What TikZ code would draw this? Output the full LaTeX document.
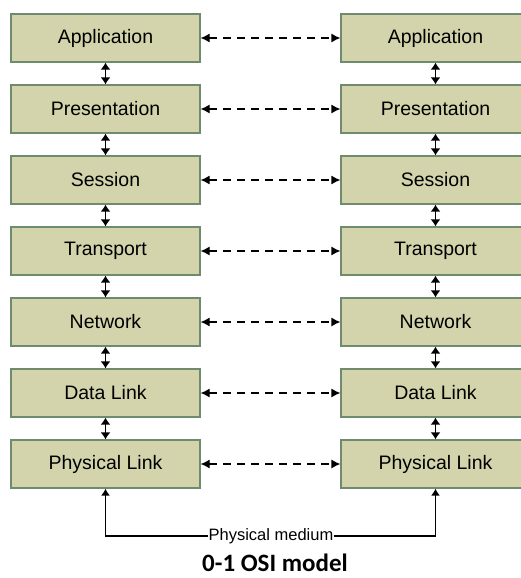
\documentclass[tikz,border=0pt]{standalone}
\usepackage{fontspec}
\setmainfont{Liberation Sans}
\newfontfamily\capfont{Carlito}
\usetikzlibrary{arrows.meta}
\definecolor{boxfill}{HTML}{D3D4AB}
\definecolor{boxline}{HTML}{6E8B6E}
\tikzset{
  layer/.style={draw=boxline, line width=1.2pt, fill=boxfill, minimum width=189pt, minimum height=48pt, inner sep=0pt, font=\fontsize{19.5}{22}\selectfont},
  vlink/.style={line width=1.5pt, {Latex[length=7pt,width=10pt]}-{Latex[length=7pt,width=10pt]}},
  hlink/.style={line width=1.2pt, dash pattern=on 8pt off 6pt, {Latex[length=9pt,width=9pt]}-{Latex[length=9pt,width=9pt]}},
  medium/.style={line width=1.5pt, -{Latex[length=7pt,width=9pt]}}
}
\begin{document}
\begin{tikzpicture}[x=1pt,y=-1pt]
\useasboundingbox (0,0) rectangle (520,578);
\foreach \i/\t in {1/Application,2/Presentation,3/Session,4/Transport,5/Network,6/Data Link,7/Physical Link}{
  \node[layer] (L\i) at (105.5,{38+71*(\i-1)}) {\t};
  \node[layer] (R\i) at (435.5,{38+71*(\i-1)}) {\t};
  \draw[hlink] (L\i.east) -- (R\i.west);
}
\foreach \i [evaluate=\i as \j using int(\i+1)] in {1,...,6}{
  \draw[vlink] (L\i.south) -- (L\j.north);
  \draw[vlink] (R\i.south) -- (R\j.north);
}
\node[inner sep=0pt, font=\fontsize{16.5}{19}\selectfont] (pm) at (271,536) {Physical medium};
\draw[medium] (pm.west) -| (L7.south);
\draw[medium] (pm.east) -| (R7.south);
\node[anchor=base, inner sep=0pt, font=\capfont\bfseries\fontsize{25}{28}\selectfont] (cap) at (275,571) {0-1 OSI model};
\end{tikzpicture}
\end{document}
